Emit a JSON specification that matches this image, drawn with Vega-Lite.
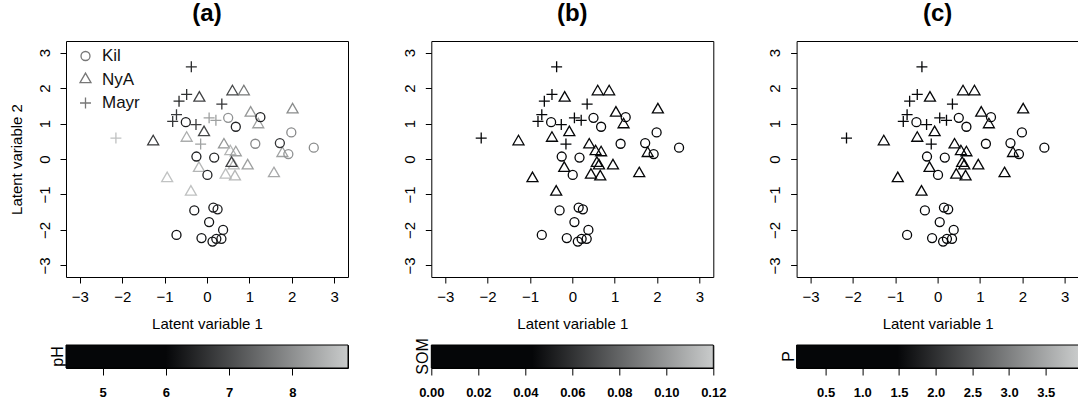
{
  "$schema": "https://vega.github.io/schema/vega-lite/v6.json",
  "padding": {"left": 9, "top": 1, "right": 0, "bottom": 0},
  "background": "white",
  "config": {
    "font": "Liberation Sans",
    "view": {"stroke": "#000", "strokeWidth": 1},
    "axis": {"grid": false, "domain": false, "tickColor": "#000", "tickSize": 6, "tickWidth": 1, "labelFontSize": 15, "labelColor": "#000", "titleFontSize": 15, "titleFontWeight": "normal", "titleColor": "#000", "labelOverlap": false, "labelFlush": false},
    "title": {"fontSize": 24, "fontWeight": "bold", "color": "#000", "baseline": "alphabetic", "offset": 15}
  },
  "datasets": {
    "pts": [
      {"site":"Mayr","x":-0.37,"y":2.60,"pH":5.3,"SOM":0.020,"P":0.8},
      {"site":"Mayr","x":-0.48,"y":1.82,"pH":5.4,"SOM":0.030,"P":0.9},
      {"site":"Mayr","x":-0.66,"y":1.63,"pH":5.2,"SOM":0.022,"P":2.4},
      {"site":"Mayr","x":0.35,"y":1.55,"pH":5.5,"SOM":0.030,"P":3.85},
      {"site":"Mayr","x":-0.72,"y":1.25,"pH":5.6,"SOM":0.025,"P":1.0},
      {"site":"Mayr","x":-0.81,"y":1.06,"pH":5.5,"SOM":0.030,"P":2.9},
      {"site":"Mayr","x":-0.26,"y":0.97,"pH":5.7,"SOM":0.035,"P":0.9},
      {"site":"Mayr","x":0.05,"y":1.16,"pH":7.9,"SOM":0.020,"P":2.25},
      {"site":"Mayr","x":0.21,"y":1.09,"pH":7.9,"SOM":0.028,"P":1.2},
      {"site":"Mayr","x":-0.15,"y":0.42,"pH":7.95,"SOM":0.032,"P":3.1},
      {"site":"Mayr","x":-2.15,"y":0.59,"pH":8.65,"SOM":0.030,"P":0.6},
      {"site":"NyA","x":-0.18,"y":1.72,"pH":5.8,"SOM":0.030,"P":0.7},
      {"site":"NyA","x":0.60,"y":1.90,"pH":5.9,"SOM":0.020,"P":0.6},
      {"site":"NyA","x":0.87,"y":1.90,"pH":7.0,"SOM":0.025,"P":0.8},
      {"site":"NyA","x":1.03,"y":1.30,"pH":7.7,"SOM":0.020,"P":0.9},
      {"site":"NyA","x":2.02,"y":1.39,"pH":7.45,"SOM":0.030,"P":1.1},
      {"site":"NyA","x":1.21,"y":0.97,"pH":7.9,"SOM":0.025,"P":0.7},
      {"site":"NyA","x":-1.27,"y":0.49,"pH":5.6,"SOM":0.015,"P":0.5},
      {"site":"NyA","x":-0.48,"y":0.59,"pH":8.2,"SOM":0.030,"P":0.8},
      {"site":"NyA","x":-0.07,"y":0.75,"pH":5.9,"SOM":0.035,"P":1.0},
      {"site":"NyA","x":0.40,"y":0.40,"pH":7.7,"SOM":0.020,"P":0.6},
      {"site":"NyA","x":0.55,"y":0.21,"pH":8.4,"SOM":0.030,"P":0.9},
      {"site":"NyA","x":0.68,"y":0.18,"pH":7.9,"SOM":0.025,"P":1.2},
      {"site":"NyA","x":1.78,"y":0.16,"pH":7.95,"SOM":0.020,"P":0.7},
      {"site":"NyA","x":0.63,"y":-0.19,"pH":8.4,"SOM":0.030,"P":1.0},
      {"site":"NyA","x":0.58,"y":-0.12,"pH":5.8,"SOM":0.115,"P":0.8},
      {"site":"NyA","x":0.96,"y":-0.19,"pH":7.9,"SOM":0.020,"P":0.6},
      {"site":"NyA","x":-0.19,"y":-0.26,"pH":8.4,"SOM":0.025,"P":0.9},
      {"site":"NyA","x":0.44,"y":-0.45,"pH":8.6,"SOM":0.030,"P":0.7},
      {"site":"NyA","x":0.66,"y":-0.50,"pH":8.45,"SOM":0.020,"P":1.1},
      {"site":"NyA","x":1.58,"y":-0.41,"pH":8.1,"SOM":0.015,"P":0.5},
      {"site":"NyA","x":-0.94,"y":-0.55,"pH":8.7,"SOM":0.020,"P":0.4},
      {"site":"NyA","x":-0.38,"y":-0.93,"pH":8.65,"SOM":0.030,"P":0.6},
      {"site":"Kil","x":1.26,"y":1.18,"pH":5.0,"SOM":0.020,"P":0.6},
      {"site":"Kil","x":-0.50,"y":1.04,"pH":4.9,"SOM":0.025,"P":2.7},
      {"site":"Kil","x":0.50,"y":1.16,"pH":7.6,"SOM":0.020,"P":0.8},
      {"site":"Kil","x":0.68,"y":0.91,"pH":5.1,"SOM":0.030,"P":0.7},
      {"site":"Kil","x":1.99,"y":0.75,"pH":7.4,"SOM":0.020,"P":0.5},
      {"site":"Kil","x":1.14,"y":0.43,"pH":7.4,"SOM":0.025,"P":0.9},
      {"site":"Kil","x":1.72,"y":0.45,"pH":5.5,"SOM":0.020,"P":0.6},
      {"site":"Kil","x":2.52,"y":0.32,"pH":7.45,"SOM":0.030,"P":2.7},
      {"site":"Kil","x":1.92,"y":0.14,"pH":7.6,"SOM":0.020,"P":0.8},
      {"site":"Kil","x":-0.25,"y":0.07,"pH":5.0,"SOM":0.030,"P":0.7},
      {"site":"Kil","x":0.17,"y":0.04,"pH":5.2,"SOM":0.088,"P":1.0},
      {"site":"Kil","x":0.01,"y":-0.45,"pH":5.1,"SOM":0.020,"P":0.6},
      {"site":"Kil","x":-0.30,"y":-1.45,"pH":4.8,"SOM":0.010,"P":0.3},
      {"site":"Kil","x":0.15,"y":-1.37,"pH":4.9,"SOM":0.012,"P":0.4},
      {"site":"Kil","x":0.25,"y":-1.42,"pH":5.0,"SOM":0.015,"P":0.35},
      {"site":"Kil","x":0.05,"y":-1.78,"pH":4.7,"SOM":0.010,"P":0.5},
      {"site":"Kil","x":0.38,"y":-2.00,"pH":4.8,"SOM":0.020,"P":3.5},
      {"site":"Kil","x":-0.72,"y":-2.14,"pH":4.6,"SOM":0.008,"P":0.3},
      {"site":"Kil","x":-0.13,"y":-2.23,"pH":4.7,"SOM":0.010,"P":0.25},
      {"site":"Kil","x":0.13,"y":-2.33,"pH":4.6,"SOM":0.012,"P":0.4},
      {"site":"Kil","x":0.22,"y":-2.25,"pH":4.8,"SOM":0.009,"P":0.3},
      {"site":"Kil","x":0.34,"y":-2.25,"pH":4.9,"SOM":0.011,"P":0.35}
    ],
    "bars": [
      {"var":"pH","lo":4.42,"hi":8.88},
      {"var":"SOM","lo":0,"hi":0.12},
      {"var":"P","lo":0.105,"hi":3.947}
    ]
  },
  "columns": 3,
  "bounds": "flush",
  "spacing": {"row": 68, "column": 83.3},
  "concat": [
    {
      "title": "(a)",
      "width": 282, "height": 236,
      "data": {"name": "pts"},
      "mark": {"type": "point", "filled": false, "strokeWidth": 1.3, "size": 81, "opacity": 1},
      "encoding": {
        "x": {"field": "x", "type": "quantitative", "scale": {"domain": [-3.328, 3.328], "nice": false, "zero": false}, "axis": {"values": [-3,-2,-1,0,1,2,3], "title": "Latent variable 1", "labelPadding": 6, "titlePadding": 12}},
        "y": {"field": "y", "type": "quantitative", "scale": {"domain": [-3.328, 3.328], "nice": false, "zero": false}, "axis": {"values": [-3,-2,-1,0,1,2,3], "title": "Latent variable 2", "labelAngle": 270, "labelAlign": "center", "labelBaseline": "bottom", "labelPadding": 8, "titlePadding": 12.5}},
        "shape": {"field": "site", "type": "nominal", "scale": {"domain": ["Kil","NyA","Mayr"], "range": ["circle", "M0,-1.41L1.22,0.7L-1.22,0.7Z", "M-1.22,0H1.22M0,-1.22V1.22"]}, "legend": {"orient": "none", "legendX": 11, "legendY": 6.5, "title": null, "labelFontSize": 17, "labelColor": "#111", "symbolStrokeColor": "#777", "symbolFillColor": "transparent", "symbolStrokeWidth": 1.3, "symbolSize": 81, "rowPadding": 5.5, "labelOffset": 8, "padding": 0}},
        "color": {"field": "pH", "type": "quantitative", "scale": {"domain": [4.42, 6, 8.88], "range": ["#050608", "#050608", "#c9cbcb"], "interpolate": "rgb", "clamp": true}, "legend": null}
      }
    },
    {
      "title": "(b)",
      "width": 282, "height": 236,
      "data": {"name": "pts"},
      "mark": {"type": "point", "filled": false, "strokeWidth": 1.3, "size": 81, "opacity": 1},
      "encoding": {
        "x": {"field": "x", "type": "quantitative", "scale": {"domain": [-3.328, 3.328], "nice": false, "zero": false}, "axis": {"values": [-3,-2,-1,0,1,2,3], "title": "Latent variable 1", "labelPadding": 6, "titlePadding": 12}},
        "y": {"field": "y", "type": "quantitative", "scale": {"domain": [-3.328, 3.328], "nice": false, "zero": false}, "axis": {"values": [-3,-2,-1,0,1,2,3], "title": null, "labelAngle": 270, "labelAlign": "center", "labelBaseline": "bottom", "labelPadding": 8}},
        "shape": {"field": "site", "type": "nominal", "scale": {"domain": ["Kil","NyA","Mayr"], "range": ["circle", "M0,-1.41L1.22,0.7L-1.22,0.7Z", "M-1.22,0H1.22M0,-1.22V1.22"]}, "legend": null},
        "color": {"field": "SOM", "type": "quantitative", "scale": {"domain": [0, 0.043, 0.12], "range": ["#050608", "#050608", "#c9cbcb"], "interpolate": "rgb", "clamp": true}, "legend": null}
      }
    },
    {
      "title": "(c)",
      "width": 282, "height": 236,
      "data": {"name": "pts"},
      "mark": {"type": "point", "filled": false, "strokeWidth": 1.3, "size": 81, "opacity": 1},
      "encoding": {
        "x": {"field": "x", "type": "quantitative", "scale": {"domain": [-3.328, 3.328], "nice": false, "zero": false}, "axis": {"values": [-3,-2,-1,0,1,2,3], "title": "Latent variable 1", "labelPadding": 6, "titlePadding": 12}},
        "y": {"field": "y", "type": "quantitative", "scale": {"domain": [-3.328, 3.328], "nice": false, "zero": false}, "axis": {"values": [-3,-2,-1,0,1,2,3], "title": null, "labelAngle": 270, "labelAlign": "center", "labelBaseline": "bottom", "labelPadding": 8}},
        "shape": {"field": "site", "type": "nominal", "scale": {"domain": ["Kil","NyA","Mayr"], "range": ["circle", "M0,-1.41L1.22,0.7L-1.22,0.7Z", "M-1.22,0H1.22M0,-1.22V1.22"]}, "legend": null},
        "color": {"field": "P", "type": "quantitative", "scale": {"domain": [0.105, 1.48, 3.947], "range": ["#050608", "#050608", "#c9cbcb"], "interpolate": "rgb", "clamp": true}, "legend": null}
      }
    },
    {
      "width": 282, "height": 23,
      "data": {"name": "bars"},
      "transform": [{"filter": "datum.var === 'pH'"}],
      "mark": {"type": "rect", "stroke": "#000", "strokeWidth": 1, "fill": {"gradient": "linear", "x1": 0, "y1": 0, "x2": 1, "y2": 0, "stops": [{"offset": 0, "color": "#050608"}, {"offset": 0.354, "color": "#050608"}, {"offset": 1, "color": "#c9cbcb"}]}},
      "encoding": {
        "x": {"field": "lo", "type": "quantitative", "scale": {"domain": [4.42, 8.88], "nice": false, "zero": false}, "axis": {"values": [5,6,7,8], "title": null, "tickSize": 7, "labelFontSize": 13, "labelFontWeight": "bold", "labelPadding": 11}},
        "x2": {"field": "hi"},
        "y": {"field": "var", "type": "nominal", "scale": {"paddingInner": 0, "paddingOuter": 0}, "axis": {"title": null, "ticks": false, "tickSize": 0, "labelFontSize": 16, "labelAngle": 270, "labelAlign": "center", "labelBaseline": "middle", "labelPadding": 8.5}}
      }
    },
    {
      "width": 282, "height": 23,
      "data": {"name": "bars"},
      "transform": [{"filter": "datum.var === 'SOM'"}],
      "mark": {"type": "rect", "stroke": "#000", "strokeWidth": 1, "fill": {"gradient": "linear", "x1": 0, "y1": 0, "x2": 1, "y2": 0, "stops": [{"offset": 0, "color": "#050608"}, {"offset": 0.358, "color": "#050608"}, {"offset": 1, "color": "#c9cbcb"}]}},
      "encoding": {
        "x": {"field": "lo", "type": "quantitative", "scale": {"domain": [0, 0.12], "nice": false, "zero": false}, "axis": {"values": [0, 0.02, 0.04, 0.06, 0.08, 0.1, 0.12], "format": ".2f", "title": null, "tickSize": 7, "labelFontSize": 13, "labelFontWeight": "bold", "labelPadding": 11}},
        "x2": {"field": "hi"},
        "y": {"field": "var", "type": "nominal", "scale": {"paddingInner": 0, "paddingOuter": 0}, "axis": {"title": null, "ticks": false, "tickSize": 0, "labelFontSize": 16, "labelAngle": 270, "labelAlign": "center", "labelBaseline": "middle", "labelPadding": 8.5}}
      }
    },
    {
      "width": 282, "height": 23,
      "data": {"name": "bars"},
      "transform": [{"filter": "datum.var === 'P'"}],
      "mark": {"type": "rect", "stroke": "#000", "strokeWidth": 1, "fill": {"gradient": "linear", "x1": 0, "y1": 0, "x2": 1, "y2": 0, "stops": [{"offset": 0, "color": "#050608"}, {"offset": 0.358, "color": "#050608"}, {"offset": 1, "color": "#c9cbcb"}]}},
      "encoding": {
        "x": {"field": "lo", "type": "quantitative", "scale": {"domain": [0.105, 3.947], "nice": false, "zero": false}, "axis": {"values": [0.5, 1, 1.5, 2, 2.5, 3, 3.5], "format": ".1f", "title": null, "tickSize": 7, "labelFontSize": 13, "labelFontWeight": "bold", "labelPadding": 11}},
        "x2": {"field": "hi"},
        "y": {"field": "var", "type": "nominal", "scale": {"paddingInner": 0, "paddingOuter": 0}, "axis": {"title": null, "ticks": false, "tickSize": 0, "labelFontSize": 16, "labelAngle": 270, "labelAlign": "center", "labelBaseline": "middle", "labelPadding": 8.5}}
      }
    }
  ]
}
